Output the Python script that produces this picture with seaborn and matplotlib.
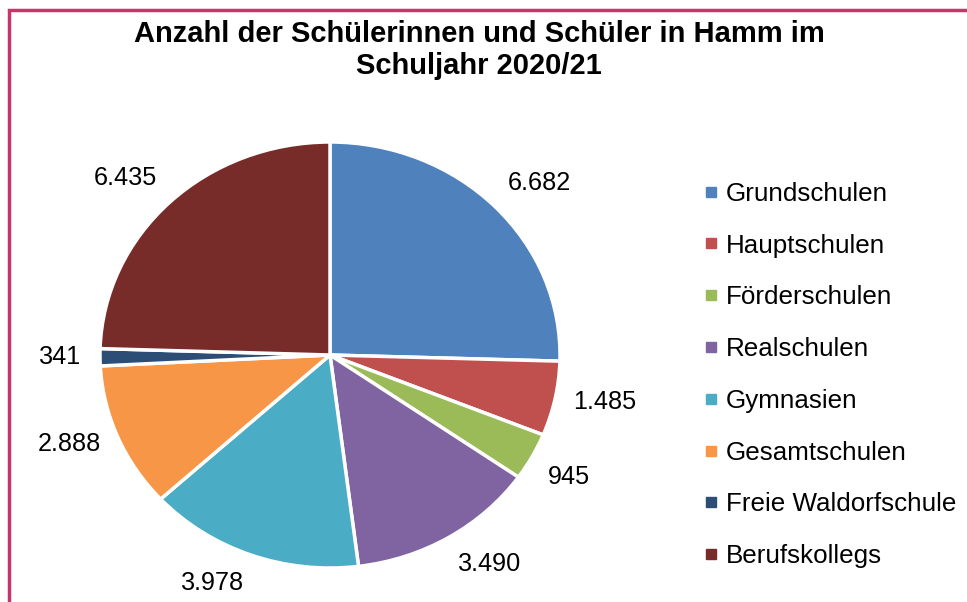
import numpy as np
import matplotlib.pyplot as plt
import seaborn as sns
from matplotlib.lines import Line2D
from matplotlib.patches import Rectangle

sns.set_theme(style="white")
plt.rcParams["font.family"] = ["Liberation Sans", "DejaVu Sans"]
plt.rcParams["text.color"] = "black"

# data
categories = [
    "Grundschulen",
    "Hauptschulen",
    "Förderschulen",
    "Realschulen",
    "Gymnasien",
    "Gesamtschulen",
    "Freie Waldorfschule",
    "Berufskollegs",
]
students = [6682, 1485, 945, 3490, 3978, 2888, 341, 6435]
colors = ["#4F81BD", "#C0504D", "#9BBB59", "#8064A2",
          "#4BACC6", "#F79646", "#2C4D75", "#772C2A"]
title = "Anzahl der Schülerinnen und Schüler in Hamm im\nSchuljahr 2020/21"


def fmt_de(v):
    # German thousands separator
    return f"{v:,}".replace(",", ".")


fig = plt.figure(figsize=(9.67, 6.02), dpi=100)
ax = fig.add_axes([100 / 967, 34 / 602, 460 / 967, 426 / 602])

wedges, _ = ax.pie(
    students,
    colors=colors,
    startangle=90,
    counterclock=False,
    wedgeprops=dict(edgecolor="white", linewidth=2.5),
)
ax.set_aspect("auto")
ax.set_xlim(-1, 1)
ax.set_ylim(-1, 1)

# value labels just outside each wedge
for w, v in zip(wedges, students):
    ang = np.deg2rad((w.theta1 + w.theta2) / 2)
    c, s = np.cos(ang), np.sin(ang)
    ha = "left" if c > 0.3 else ("right" if c < -0.3 else "center")
    va = "bottom" if s > 0.4 else ("top" if s < -0.4 else "center")
    ax.text(1.08 * c, 1.08 * s, fmt_de(v), ha=ha, va=va,
            fontsize=18.2, color="black")

handles = [Line2D([], [], marker="s", linestyle="none", markersize=7,
                  markerfacecolor=col, markeredgecolor=col) for col in colors]
fig.legend(
    handles, categories,
    loc="center left",
    bbox_to_anchor=(692 / 967, 1 - 375 / 602),
    frameon=False,
    fontsize=18.7,
    handlelength=0.5,
    handletextpad=0.3,
    labelspacing=1.07,
    borderpad=0,
    labelcolor="black",
)

fig.text(479 / 967, 1 - 50 / 602, title, ha="center", va="center",
         fontsize=21, fontweight="bold", linespacing=1.15, color="black")

# magenta frame around the chart area (right/bottom edges cut off)
fig.patches.append(Rectangle((9 / 967, -0.1), 2, 1 - 10 / 602 + 0.1,
                             transform=fig.transFigure, fill=False,
                             edgecolor="#C9356B", linewidth=2.5))

fig.savefig("out.png", dpi=100)
